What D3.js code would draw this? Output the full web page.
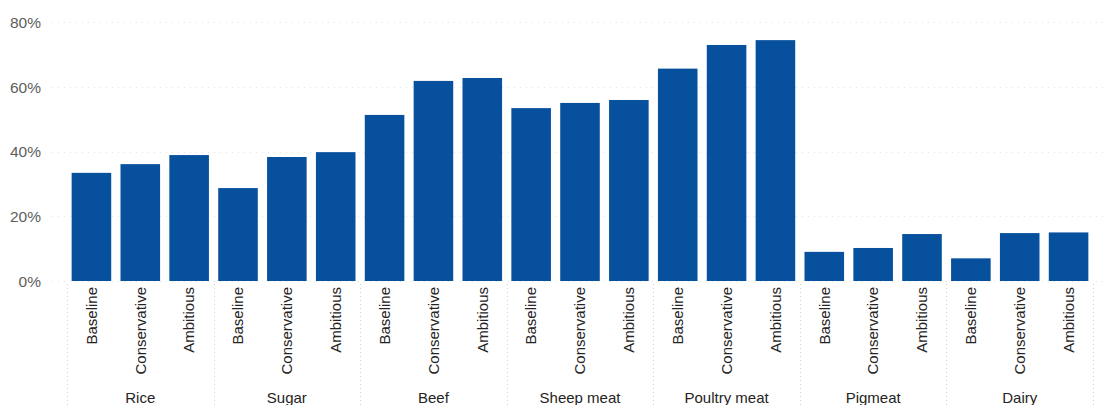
<!DOCTYPE html>
<html>
<head>
<meta charset="utf-8">
<script src="https://cdn.jsdelivr.net/npm/d3@7"></script>
<style>
  html, body { margin: 0; padding: 0; background: #fff; }
  svg { display: block; font-family: "Liberation Sans", Arial, sans-serif; }
</style>
</head>
<body>
<svg id="chart" width="1112" height="405"></svg>
<script>
// Share of production by commodity under each scenario
const groups = ["Rice", "Sugar", "Beef", "Sheep meat", "Poultry meat", "Pigmeat", "Dairy"];
const scenarios = ["Baseline", "Conservative", "Ambitious"];
const rice = [33.4, 36.1, 38.9];
const sugar = [28.7, 38.3, 39.8];
const beef = [51.3, 61.8, 62.7];
const sheepMeat = [53.4, 55.0, 55.9];
const poultryMeat = [65.6, 72.9, 74.4];
const pigmeat = [9.0, 10.2, 14.5];
const dairy = [7.0, 14.8, 15.0];
const yTicks = [0, 20, 40, 60, 80];

const seriesByGroup = [rice, sugar, beef, sheepMeat, poultryMeat, pigmeat, dairy];
const rows = [];
groups.forEach((g, gi) => {
  scenarios.forEach((s, si) => {
    rows.push({ group: g, scenario: s, key: g + "|" + s, value: seriesByGroup[gi][si] });
  });
});

const svg = d3.select("#chart");
const plotLeft = 67, plotRight = 1093, y0 = 281, yTop = 22;

const x = d3.scaleBand()
  .domain(rows.map(d => d.key))
  .range([plotLeft, plotRight])
  .paddingInner(0.19)
  .paddingOuter(0.095);

const y = d3.scaleLinear().domain([0, 80]).range([y0, yTop]);

// horizontal gridlines (very faint dotted)
const grid = svg.append("g");
grid.selectAll("line")
  .data(yTicks)
  .join("line")
  .attr("x1", 52).attr("x2", 1106)
  .attr("y1", d => Math.round(y(d)) + 0.5)
  .attr("y2", d => Math.round(y(d)) + 0.5)
  .attr("stroke", "#e4e4e4")
  .attr("stroke-width", 1)
  .attr("stroke-dasharray", "1,5");

// y axis labels
const yAxis = d3.axisLeft(y).tickValues(yTicks).tickFormat(d => d + "%").tickSize(0).tickPadding(0);
const yg = svg.append("g").attr("transform", "translate(41,0)").call(yAxis);
yg.select(".domain").remove();
yg.selectAll("text")
  .attr("fill", "#605e5c")
  .style("font-size", "15.5px")
  .attr("dy", "0.35em");

// bars
svg.append("g").selectAll("rect")
  .data(rows)
  .join("rect")
  .attr("x", d => x(d.key))
  .attr("width", x.bandwidth())
  .attr("y", d => y(d.value))
  .attr("height", d => y0 - y(d.value))
  .attr("fill", "#07509e");

// group separators
const step = x.step();
const groupStart = gi => x(rows[gi * 3].key) - x.paddingInner() * step / 2;
const sepX = groups.map((g, gi) => groupStart(gi)).concat([x(rows[rows.length - 1].key) + x.bandwidth() + x.paddingInner() * step / 2]);
svg.append("g").selectAll("line")
  .data(sepX)
  .join("line")
  .attr("x1", d => Math.round(d) + 0.5)
  .attr("x2", d => Math.round(d) + 0.5)
  .attr("y1", 284).attr("y2", 405)
  .attr("stroke", "#cfcfcf")
  .attr("stroke-dasharray", "1,3");

// scenario labels under each bar
const xAxis = d3.axisBottom(x).tickFormat(k => k.split("|")[1]).tickSize(0).tickPadding(0);
const xg = svg.append("g").attr("transform", `translate(0,${y0})`).call(xAxis);
xg.select(".domain").remove();
xg.selectAll("text")
  .attr("transform", "rotate(-90)")
  .attr("text-anchor", "end")
  .attr("x", -6)
  .attr("y", 0)
  .attr("dy", "0.35em")
  .attr("fill", "#252423")
  .style("font-size", "15px");

// group labels
svg.append("g").selectAll("text")
  .data(groups)
  .join("text")
  .attr("x", (g, gi) => groupStart(gi) + 1.5 * step)
  .attr("y", 403)
  .attr("text-anchor", "middle")
  .attr("fill", "#252423")
  .style("font-size", "15px")
  .text(g => g);
</script>
</body>
</html>
